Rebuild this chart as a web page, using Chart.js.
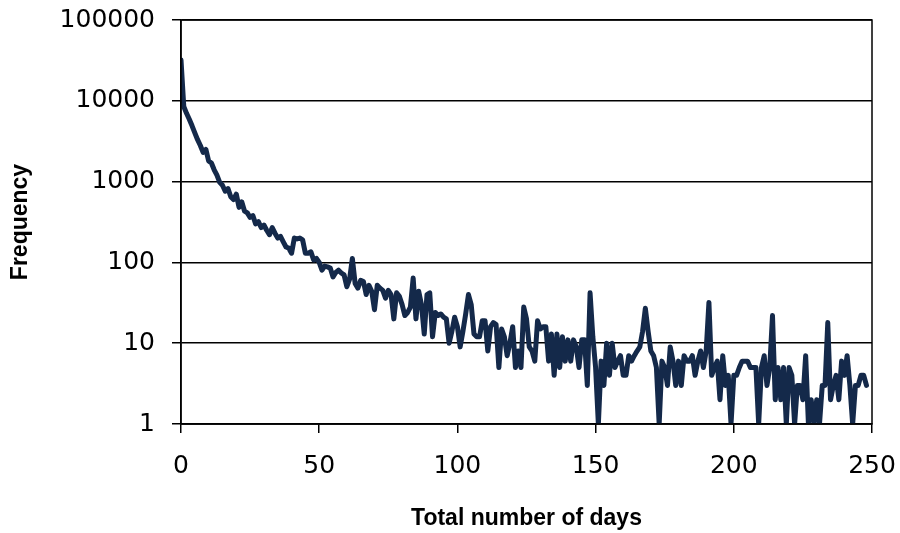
<!DOCTYPE html>
<html>
<head>
<meta charset="utf-8">
<title>Frequency by total number of days</title>
<script src="https://cdn.jsdelivr.net/npm/chart.js@4.4.1/dist/chart.umd.min.js"></script>
<style>
    html, body { margin: 0; padding: 0; background: #fff; }
    #wrap { width: 900px; height: 533px; position: relative; }
</style>
</head>
<body>
<div id="wrap"><canvas id="daysChart"></canvas></div>
<script>
/* ==========================================================================
   DATA
   ========================================================================== */
// Frequency for each total number of days, starting at day 0
const frequency = [
    32000, 8500, 7000, 5900, 4900, 4000, 3300, 2800, 2300, 2500,
    1800, 1700, 1400, 1200, 980, 900, 760, 820, 650, 600,
    700, 480, 560, 430, 410, 360, 380, 300, 320, 270,
    290, 250, 220, 270, 230, 200, 210, 180, 155, 150,
    130, 200, 195, 200, 190, 130, 130, 135, 107, 112,
    100, 80, 90, 88, 85, 66, 75, 80, 74, 70,
    50, 62, 112, 55, 48, 60, 58, 40, 52, 44,
    26, 52, 48, 45, 36, 45, 40, 20, 42, 38,
    30, 22, 24, 28, 64, 20, 44, 30, 13, 40,
    42, 12, 24, 22, 23, 21, 20, 10, 14, 21,
    16, 9, 14, 23, 40, 30, 13, 12, 12, 19,
    19, 8, 16, 18, 17, 5, 15, 12, 7, 10,
    16, 5, 8, 5, 28, 20, 9, 8, 6, 19,
    15, 16, 16, 6, 13, 4, 13, 5, 12, 6,
    11, 6, 11, 9, 5, 11, 11, 3, 42, 12,
    5, 1, 6, 3, 10, 4, 10, 5, 6, 7,
    4, 4, 7, 6, 7, 8, 9, 14, 27, 14,
    8, 7, 5, 1, 6, 5, 3, 9, 6, 3,
    6, 3, 7, 6, 6, 7, 4, 6, 8, 5,
    8, 32, 4, 5, 6, 2, 7, 3, 4, 1,
    4, 4, 5, 6, 6, 6, 5, 5, 5, 1,
    5, 7, 3, 5, 22, 2, 5, 2, 5, 1,
    5, 4, 1, 3, 3, 2, 7, 1, 2, 1,
    2, 1, 3, 3, 18, 2, 3, 4, 2, 6,
    4, 7, 3, 1, 3, 3, 4, 4, 3
];

const xTickValues = [0, 50, 100, 150, 200, 250];
const yTickValues = [1, 10, 100, 1000, 10000, 100000];

const xTitle = "Total number of days";
const yTitle = "Frequency";

/* ==========================================================================
   CHART SETUP
   ========================================================================== */
const lineColor = "#14294a";
const axisColor = "#000";
const tickFont = { family: "'DejaVu Sans', Verdana, sans-serif", size: 25 };
const titleFont = { family: "'Liberation Sans', Arial, sans-serif", size: 23, weight: "bold" };

// Box around the plot area (right edge is not drawn by any axis)
const plotFrame = {
    id: "plotFrame",
    afterDraw(chart) {
        const { ctx, chartArea } = chart;
        ctx.save();
        ctx.strokeStyle = axisColor;
        ctx.lineWidth = 1.5;
        ctx.strokeRect(chartArea.left, chartArea.top, chartArea.right - chartArea.left, chartArea.bottom - chartArea.top);
        ctx.restore();
    }
};

const points = frequency.map((value, day) => ({ x: day, y: value }));

new Chart(document.getElementById("daysChart"), {
    type: "line",
    data: {
        datasets: [{
            data: points,
            borderColor: lineColor,
            borderWidth: 5,
            borderJoinStyle: "round",
            borderCapStyle: "round",
            pointRadius: 0,
            tension: 0,
            fill: false
        }]
    },
    options: {
        responsive: true,
        maintainAspectRatio: false,
        animation: false,
        layout: { padding: { top: 20, right: 28, left: 0, bottom: 0 } },
        plugins: {
            legend: { display: false },
            tooltip: { enabled: false }
        },
        scales: {
            x: {
                type: "linear",
                min: 0,
                max: 250,
                afterBuildTicks: scale => { scale.ticks = xTickValues.map(v => ({ value: v })); },
                // fixed axis box so the plot area lands where it should
                afterFit: scale => {
                    scale.height = 109;
                    scale.paddingLeft = 0;
                    scale.paddingRight = 0;
                },
                ticks: { color: axisColor, font: tickFont, padding: 18, maxRotation: 0 },
                grid: { drawOnChartArea: false, drawTicks: true, tickLength: 9, color: axisColor, lineWidth: 1.5 },
                border: { color: axisColor, width: 1.5 },
                title: { display: true, text: xTitle, color: axisColor, font: titleFont, padding: { top: 0, bottom: 1 } }
            },
            y: {
                type: "logarithmic",
                min: 1,
                max: 100000,
                afterBuildTicks: scale => { scale.ticks = yTickValues.map(v => ({ value: v })); },
                afterFit: scale => {
                    scale.width = 181;
                    scale.paddingTop = 0;
                    scale.paddingBottom = 0;
                },
                ticks: { color: axisColor, font: tickFont, padding: 17, callback: v => String(v) },
                grid: { color: axisColor, lineWidth: 1.5, tickLength: 9 },
                border: { color: axisColor, width: 1.5 },
                title: { display: true, text: yTitle, color: axisColor, font: titleFont, padding: { top: 7, bottom: 0 } }
            }
        }
    },
    plugins: [plotFrame]
});
</script>
</body>
</html>
